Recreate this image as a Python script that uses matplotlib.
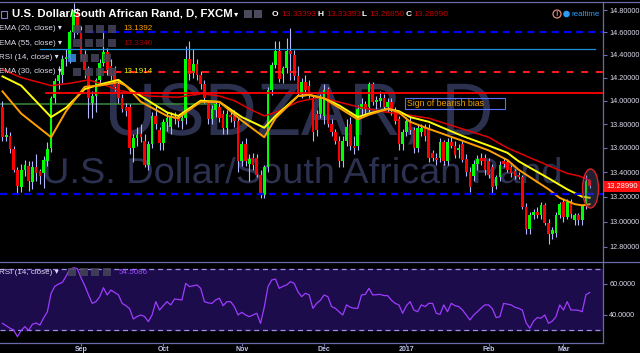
import numpy as np
import matplotlib
matplotlib.use("Agg")
from matplotlib import pyplot as plt
from matplotlib.patches import Rectangle, Ellipse, PathPatch, Circle
from matplotlib.textpath import TextPath
from matplotlib.font_manager import FontProperties
from matplotlib.transforms import Affine2D
from matplotlib.ticker import NullLocator

plt.rcParams['font.family'] = ['Liberation Sans', 'DejaVu Sans']

# USD/ZAR daily candles, one per trading day (bar 0 = 3 Aug 2016, bar 157 = 10 Mar 2017)
opens = [
    13.95, 13.69, 13.70, 13.59, 13.42, 13.28, 13.42, 13.45, 13.32, 13.44,
    13.41, 13.39, 13.49, 13.60, 14.02, 14.17, 14.22, 14.36, 14.37, 14.60,
    14.78, 14.62, 14.40, 14.27, 13.98, 14.04, 14.18, 14.33, 14.42, 14.30,
    14.27, 14.14, 14.02, 13.95, 13.95, 13.60, 13.68, 13.72, 13.66, 13.46,
    13.63, 13.87, 13.75, 13.64, 13.82, 13.78, 13.86, 13.86, 13.83, 13.85,
    14.36, 14.24, 14.32, 14.22, 14.14, 13.98, 13.84, 13.92, 13.95, 13.89,
    13.77, 13.88, 13.88, 13.83, 13.49, 13.63, 13.47, 13.52, 13.52, 13.38,
    13.21, 13.44, 14.09, 14.31, 14.43, 14.23, 14.28, 14.43, 14.40, 14.21,
    14.06, 14.16, 14.13, 14.02, 13.89, 13.89, 13.87, 14.10, 13.80, 13.73,
    13.66, 13.49, 13.66, 13.80, 13.62, 13.62, 13.93, 13.97, 13.95, 14.14,
    13.99, 14.00, 14.02, 13.95, 13.99, 13.91, 13.84, 13.63, 13.73, 13.83,
    13.75, 13.60, 13.73, 13.77, 13.77, 13.56, 13.52, 13.52, 13.65, 13.49,
    13.65, 13.62, 13.58, 13.63, 13.51, 13.40, 13.37, 13.47, 13.52, 13.52,
    13.49, 13.44, 13.29, 13.36, 13.49, 13.48, 13.44, 13.41, 13.38, 13.36,
    13.12, 12.94, 13.05, 13.08, 13.05, 13.13, 12.99, 12.90, 12.91, 13.05,
    13.16, 13.04, 13.16, 13.01, 13.05, 13.01, 13.13, 13.33393]
highs = [
    14.00, 13.78, 13.73, 13.62, 13.44, 13.47, 13.50, 13.49, 13.49, 13.55,
    13.43, 13.53, 13.65, 14.04, 14.20, 14.30, 14.40, 14.45, 14.62, 14.86,
    14.82, 14.66, 14.44, 14.30, 14.08, 14.20, 14.36, 14.60, 14.46, 14.36,
    14.30, 14.18, 14.06, 13.98, 13.97, 13.72, 13.78, 13.80, 13.72, 13.66,
    13.90, 13.96, 13.78, 13.84, 13.90, 13.90, 13.90, 13.88, 13.88, 14.48,
    14.52, 14.45, 14.36, 14.26, 14.18, 14.00, 13.96, 14.00, 13.98, 13.92,
    13.92, 13.93, 13.92, 13.86, 13.66, 13.68, 13.55, 13.56, 13.55, 13.42,
    13.46, 14.12, 14.34, 14.52, 14.52, 14.30, 14.55, 14.64, 14.44, 14.30,
    14.20, 14.22, 14.18, 14.05, 13.92, 14.06, 14.14, 14.12, 13.84, 13.76,
    13.70, 13.70, 13.84, 13.86, 13.70, 13.96, 14.02, 14.00, 14.16, 14.16,
    14.04, 14.08, 14.06, 14.02, 14.02, 13.95, 13.87, 13.76, 13.86, 13.88,
    13.78, 13.80, 13.80, 13.80, 13.80, 13.58, 13.56, 13.68, 13.67, 13.68,
    13.70, 13.66, 13.63, 13.66, 13.55, 13.44, 13.50, 13.54, 13.56, 13.55,
    13.52, 13.47, 13.38, 13.49, 13.52, 13.50, 13.46, 13.43, 13.40, 13.38,
    13.15, 13.08, 13.10, 13.12, 13.16, 13.15, 13.02, 12.96, 13.08, 13.16,
    13.18, 13.18, 13.18, 13.07, 13.07, 13.14, 13.38, 13.33393]
lows = [
    13.66, 13.66, 13.56, 13.40, 13.23, 13.24, 13.37, 13.25, 13.26, 13.33,
    13.30, 13.27, 13.45, 13.57, 13.98, 14.10, 14.15, 14.30, 14.33, 14.55,
    14.58, 14.36, 14.20, 13.85, 13.85, 13.90, 14.15, 14.30, 14.22, 14.18,
    14.08, 13.98, 13.90, 13.87, 13.55, 13.48, 13.62, 13.65, 13.44, 13.42,
    13.60, 13.76, 13.58, 13.58, 13.74, 13.72, 13.80, 13.78, 13.76, 13.80,
    14.18, 14.20, 14.18, 14.10, 13.98, 13.80, 13.80, 13.86, 13.82, 13.72,
    13.72, 13.82, 13.78, 13.40, 13.45, 13.45, 13.33, 13.42, 13.36, 13.19,
    13.19, 13.40, 14.05, 14.28, 14.16, 14.15, 14.24, 14.18, 14.18, 14.04,
    14.02, 14.06, 14.02, 13.66, 13.70, 13.85, 13.80, 13.78, 13.70, 13.63,
    13.44, 13.44, 13.62, 13.58, 13.55, 13.58, 13.88, 13.88, 13.90, 13.96,
    13.93, 13.95, 13.92, 13.90, 13.88, 13.80, 13.58, 13.58, 13.70, 13.72,
    13.56, 13.57, 13.70, 13.66, 13.48, 13.49, 13.46, 13.48, 13.46, 13.46,
    13.60, 13.52, 13.52, 13.48, 13.37, 13.24, 13.33, 13.42, 13.46, 13.38,
    13.35, 13.22, 13.26, 13.33, 13.44, 13.40, 13.36, 13.34, 13.34, 13.10,
    12.90, 12.90, 13.02, 13.03, 13.02, 12.97, 12.82, 12.86, 12.88, 13.03,
    13.00, 13.02, 13.03, 12.97, 12.97, 12.97, 13.10, 13.26850]
closes = [
    13.69, 13.71, 13.59, 13.42, 13.29, 13.42, 13.46, 13.33, 13.44, 13.39,
    13.37, 13.50, 13.59, 14.02, 14.17, 14.22, 14.36, 14.38, 14.60, 14.80,
    14.62, 14.40, 14.27, 14.02, 14.04, 14.18, 14.33, 14.42, 14.27, 14.22,
    14.12, 14.02, 13.93, 13.91, 13.60, 13.68, 13.71, 13.69, 13.46, 13.63,
    13.87, 13.80, 13.64, 13.82, 13.85, 13.86, 13.84, 13.83, 13.85, 14.36,
    14.23, 14.32, 14.22, 14.14, 14.02, 13.84, 13.93, 13.97, 13.85, 13.77,
    13.89, 13.86, 13.83, 13.49, 13.63, 13.49, 13.51, 13.46, 13.38, 13.21,
    13.44, 14.09, 14.31, 14.43, 14.19, 14.28, 14.43, 14.41, 14.21, 14.06,
    14.16, 14.09, 14.06, 13.73, 13.75, 14.02, 14.09, 13.80, 13.73, 13.66,
    13.49, 13.66, 13.78, 13.62, 13.60, 13.93, 13.97, 13.93, 14.14, 13.99,
    14.01, 14.02, 13.95, 13.99, 13.91, 13.83, 13.63, 13.73, 13.83, 13.75,
    13.60, 13.77, 13.77, 13.70, 13.52, 13.52, 13.50, 13.65, 13.49, 13.65,
    13.62, 13.54, 13.60, 13.50, 13.40, 13.28, 13.47, 13.51, 13.49, 13.42,
    13.38, 13.28, 13.36, 13.46, 13.47, 13.42, 13.39, 13.37, 13.36, 13.12,
    12.94, 13.05, 13.08, 13.05, 13.13, 12.99, 12.90, 12.93, 13.05, 13.14,
    13.04, 13.16, 13.06, 13.05, 13.01, 13.13, 13.33, 13.28990]

# moving averages (bar index, value)
ema20_bars = [0, 5, 13, 17, 22, 26, 31, 33, 37, 44, 47, 49, 53, 58, 64, 70, 73, 79, 82,
              86, 90, 95, 98, 103, 106, 109, 114, 123, 130, 135, 138, 146, 149, 153, 155, 157]
ema20 = [14.08, 13.89, 13.69, 13.91, 14.12, 14.13, 14.16, 14.13, 13.99, 13.87, 13.85,
         13.90, 13.99, 13.99, 13.83, 13.69, 13.85, 14.04, 14.05, 14.02, 13.94, 13.84,
         13.88, 13.93, 13.90, 13.82, 13.76, 13.66, 13.58, 13.50, 13.42, 13.26, 13.19,
         13.14, 13.13, 13.1392]
ema30_bars = [0, 5, 13, 17, 22, 26, 31, 35, 44, 47, 53, 58, 64, 70, 73, 79, 82, 86, 90,
              95, 98, 103, 106, 109, 114, 123, 130, 135, 138, 146, 151, 155, 157]
ema30 = [14.21, 14.13, 13.86, 13.94, 14.10, 14.14, 14.18, 14.08, 13.90, 13.87, 14.00,
         13.99, 13.86, 13.77, 13.87, 14.04, 14.05, 14.02, 13.96, 13.86, 13.89, 13.93,
         13.91, 13.86, 13.82, 13.70, 13.62, 13.56, 13.49, 13.35, 13.26, 13.20, 13.1914]
ema55_bars = [0, 5, 13, 18, 23, 27, 31, 39, 47, 53, 58, 62, 66, 70, 73, 79, 85, 91, 96,
              103, 108, 114, 122, 130, 135, 141, 147, 151, 154, 157]
ema55 = [14.27, 14.20, 14.13, 14.15, 14.18, 14.14, 14.09, 14.04, 14.03, 14.06, 14.04,
         14.00, 13.93, 13.87, 13.90, 13.99, 14.03, 13.98, 13.94, 13.90, 13.88, 13.85,
         13.77, 13.69, 13.60, 13.52, 13.44, 13.39, 13.37, 13.334]

# RSI(14), one value per bar
rsi = [
    34.6, 33.0, 31.5, 30.3, 26.0, 30.0, 32.5, 30.0, 34.0, 34.8,
    33.5, 38.0, 42.0, 54.0, 58.5, 60.0, 61.0, 65.0, 69.5, 70.5,
    70.0, 64.0, 59.0, 53.0, 47.5, 48.6, 51.8, 57.6, 52.9, 56.1,
    54.5, 53.0, 47.5, 46.0, 44.0, 37.4, 39.0, 40.0, 39.0, 35.7,
    40.0, 48.6, 43.2, 46.0, 48.6, 46.5, 50.3, 50.0, 49.7, 60.4,
    58.3, 58.8, 59.4, 57.2, 48.6, 47.8, 47.5, 49.7, 50.8, 46.0,
    48.6, 48.6, 45.4, 40.0, 41.7, 40.0, 38.9, 40.0, 41.1, 34.6,
    45.0, 58.3, 62.6, 63.2, 57.2, 58.5, 59.4, 61.5, 60.4, 55.0,
    51.8, 54.0, 53.0, 44.3, 47.5, 49.5, 52.9, 51.8, 45.4, 44.3,
    42.0, 40.0, 46.5, 45.0, 44.3, 44.3, 52.9, 53.3, 57.2, 52.9,
    53.1, 53.3, 52.5, 52.5, 49.5, 47.5, 46.5, 41.1, 46.0, 48.6,
    43.2, 42.1, 46.5, 45.4, 47.5, 47.5, 41.1, 40.4, 46.5, 42.1,
    47.5, 46.0, 45.4, 43.2, 40.0, 36.8, 40.0, 42.1, 44.5, 46.5,
    46.5, 44.0, 38.3, 38.9, 47.5, 47.0, 46.5, 45.0, 44.3, 43.2,
    35.0, 31.4, 36.0, 38.3, 37.9, 40.0, 34.6, 36.0, 38.9, 46.5,
    43.2, 48.6, 43.2, 43.2, 43.0, 42.1, 53.0, 54.5086]

month_bars = [21, 43, 64, 86, 108, 130, 150]
month_labels = ['Sep', 'Oct', 'Nov', 'Dec', '2017', 'Feb', 'Mar']
price_ticks = [12.8, 13.0, 13.2, 13.4, 13.6, 13.8, 14.0, 14.2, 14.4, 14.6, 14.8]
rsi_ticks = [40, 60]

# horizontal levels drawn on the chart
level_blue_top = 14.60
level_lightblue = 14.45
level_red_dash = 14.25
level_red = 14.07
level_green = 13.97
level_blue_low = 13.22

W, H = 640, 353
fig = plt.figure(figsize=(6.4, 3.53), dpi=100)
fig.patch.set_facecolor('black')

# background layer (pixel coords) for the watermark
bg = fig.add_axes([0, 0, 1, 1], zorder=0)
bg.set_xlim(0, W)
bg.set_ylim(H, 0)
bg.axis('off')


def fit_text(axis, s, x0, x1, y_top, y_base, color, weight='normal'):
    fp = FontProperties(family='Liberation Sans', weight=weight)
    tp = TextPath((0, 0), s, size=1, prop=fp)
    bb = tp.get_extents()
    sx = (x1 - x0) / bb.width
    sy = (y_base - y_top) / bb.y1
    tr = Affine2D().translate(-bb.x0, 0).scale(sx, -sy).translate(x0, y_base) + axis.transData
    axis.add_patch(PathPatch(tp, transform=tr, facecolor=color, lw=0))


fit_text(bg, 'USDZAR, D', 110, 490, 83, 135, '#2c3150')
fit_text(bg, 'U.S. Dollar/South African Rand', 45, 560, 157, 183, '#2c3150')

# main price pane
ax = fig.add_axes([0, 1 - 262 / H, 603 / W, 260 / H], zorder=1)
ax.patch.set_alpha(0)
ax.set_yscale('log')
ax.set_xlim(-0.66, 160.57)
ax.set_ylim(12.682, 14.873)

idx = np.arange(len(closes))
o = np.array(opens)
c = np.array(closes)
up = c >= o
body_low = np.minimum(o, c)
body_h = np.maximum(np.abs(c - o), 0.006)

ax.vlines(idx, lows, highs, color='#b4b8ff', lw=0.8, zorder=3)
ax.bar(idx[up], body_h[up], bottom=body_low[up], width=0.72, color='#00ff00', lw=0, zorder=4)
ax.bar(idx[~up], body_h[~up], bottom=body_low[~up], width=0.72, color='#ff0000', lw=0, zorder=4)

ax.plot(ema55_bars, ema55, color='#e00000', lw=1.1, zorder=5)
ax.plot(ema30_bars, ema30, color='#ffff00', lw=1.4, zorder=5)
ax.plot(ema20_bars, ema20, color='#ffa000', lw=1.4, zorder=5)

ax.axhline(level_blue_top, xmin=75 / 603, xmax=1, color='#0000ff', lw=1.6,
           linestyle=(0, (3.2, 2.3)), zorder=6)
ax.axhline(level_lightblue, xmin=40 / 603, xmax=595 / 603, color='#1e8ed8', lw=0.9, zorder=6)
ax.axhline(level_red_dash, xmin=100 / 603, xmax=1, color='#ff1a1a', lw=1.5,
           linestyle=(0, (3.3, 3.7)), zorder=6)
ax.axhline(level_red, xmin=46 / 603, xmax=1, color='#ff0000', lw=1.3, zorder=6)
ax.axhline(level_green, xmin=0, xmax=215 / 603, color='#3a8a3a', lw=1.1, zorder=2)
ax.axhline(level_blue_low, xmin=0, xmax=1, color='#0000ff', lw=1.6,
           linestyle=(0, (3.2, 2.3)), zorder=6)

for s in ax.spines.values():
    s.set_visible(False)
ax.set_xticks([])
ax.set_yticks(price_ticks)
ax.set_yticklabels(['%.5f' % v for v in price_ticks])
ax.yaxis.set_minor_locator(NullLocator())
ax.yaxis.tick_right()
ax.tick_params(axis='y', colors='#7070b0', labelcolor='#dcdcec', length=3, width=0.8,
               pad=1.5, labelsize=5.2)

# RSI pane
ax2 = fig.add_axes([0, 1 - 343 / H, 603 / W, 81 / H], zorder=1)
ax2.set_facecolor('black')
ax2.set_xlim(-0.66, 160.57)
ax2.set_ylim(21.9, 74.2)
ax2.axhspan(30, 70, color='#1d0c4b', zorder=0)
ax2.axhline(70, color='#9a8fe0', lw=0.9, linestyle=(0, (4, 3)), zorder=1)
ax2.axhline(30, color='#9a8fe0', lw=0.9, linestyle=(0, (4, 3)), zorder=1)
ax2.plot(idx, rsi, color='#9d3cff', lw=0.9, zorder=2)
for s in ax2.spines.values():
    s.set_visible(False)
ax2.set_yticks(rsi_ticks)
ax2.set_yticklabels(['%.4f' % v for v in rsi_ticks])
ax2.yaxis.tick_right()
ax2.set_xticks(month_bars)
ax2.set_xticklabels(month_labels, fontweight='bold')
ax2.tick_params(axis='y', colors='#7070b0', labelcolor='#dcdcec', length=3, width=0.8,
                pad=1.5, labelsize=5.2)
ax2.tick_params(axis='x', colors='#7070b0', labelcolor='#c0c8f0', length=2, width=0.8,
                pad=0.3, labelsize=5.0)

# foreground layer (pixel coords): frame, legends, labels, annotations
fg = fig.add_axes([0, 0, 1, 1], zorder=10)
fg.set_xlim(0, W)
fg.set_ylim(H, 0)
fg.axis('off')

frame = '#6a6aa8'
fg.plot([0, W], [1.5, 1.5], color=frame, lw=0.9)
fg.plot([603, 603], [1.5, 343], color=frame, lw=0.9)
fg.plot([0, W], [262, 262], color=frame, lw=0.9)
fg.plot([0, 603], [343, 343], color=frame, lw=0.9)

# title line
fg.add_patch(Rectangle((1, 10.5), 6, 7, fill=False, edgecolor='#8080d0', lw=0.8))
fg.text(12, 14, 'U.S. Dollar/South African Rand, D, FXCM', color='white', fontsize=8.2,
        fontweight='bold', va='center', ha='left')
fg.text(236, 14.5, '▾', color='white', fontsize=6, va='center', ha='center')
for x0 in (244, 254):
    fg.add_patch(Rectangle((x0, 10), 8, 8, facecolor='#4a4a5c', edgecolor='none'))
ohlc = [('O', 272, 'white'), ('13.33393', 281, '#c00000'), ('H', 318, 'white'),
        ('13.33393', 326, '#c00000'), ('L', 362, 'white'), ('13.26850', 369, '#c00000'),
        ('C', 406, 'white'), ('13.28990', 413, '#c00000')]
for txt, x0, col in ohlc:
    fg.text(x0, 14, txt, color=col, fontsize=6.0, va='center', ha='left',
            fontweight='bold' if col == 'white' else 'normal')

fg.add_patch(Circle((557, 14), 4, fill=False, edgecolor='#e08878', lw=0.9))
fg.text(557, 14.3, '!', color='#e08878', fontsize=5.5, ha='center', va='center', fontweight='bold')
fg.add_patch(Circle((566.5, 14), 2.6, color='#2a9df4'))
fg.text(572, 14, 'realtime', color='#2a9df4', fontsize=5.8, va='center', ha='left')

# indicator legend rows
legend_rows = [('EMA (20, close)', 29, '13.1392', '#ffa000', 73),
               ('EMA (55, close)', 43.3, '13.3340', '#a00000', 73),
               ('RSI (14, close)', 57.7, '', None, 68),
               ('EMA (30, close)', 71.7, '13.1914', '#f0f000', 73)]
for name, yy, val, col, ix in legend_rows:
    fg.text(-1, yy, name + ' ▾', color='#dcdcf0', fontsize=5.8, va='center', ha='left')
    for k in range(4):
        fc = '#3a8ee8' if (name.startswith('RSI') and k == 0) else '#45455a'
        fg.add_patch(Rectangle((ix + 11.5 * k, yy - 4), 8, 8, facecolor=fc,
                               edgecolor='none', alpha=0.85))
    if val:
        fg.text(123, yy, val, color=col, fontsize=5.8, va='center', ha='left')

fg.text(-1, 272, 'RSI (14, close) ▾', color='#dcdcf0', fontsize=5.8, va='center', ha='left')
for k in range(4):
    fg.add_patch(Rectangle((68 + 11.5 * k, 268), 8, 8, facecolor='#45455a', edgecolor='none',
                           alpha=0.85))
fg.text(119, 272, '54.5086', color='#9c4dff', fontsize=5.8, va='center', ha='left')

# annotation box and ellipse
fg.add_patch(Rectangle((405, 97.5), 100, 11, fill=False, edgecolor='#5570ff', lw=0.8))
fg.text(407, 103, 'Sign of bearish bias', color='#f0a000', fontsize=6.3, va='center', ha='left')
fg.add_patch(Ellipse((590.5, 188.5), 16, 39, facecolor=(0.35, 0.37, 0.55, 0.35),
                     edgecolor='#e02020', lw=1))

# last price label
fg.add_patch(Rectangle((603.5, 181), 36.5, 11, facecolor='#ff1010', edgecolor='none'))
fg.text(606, 186.5, '13.28990', color='white', fontsize=5.4, va='center', ha='left')

fig.savefig('out.png', dpi=100, facecolor=fig.get_facecolor())
